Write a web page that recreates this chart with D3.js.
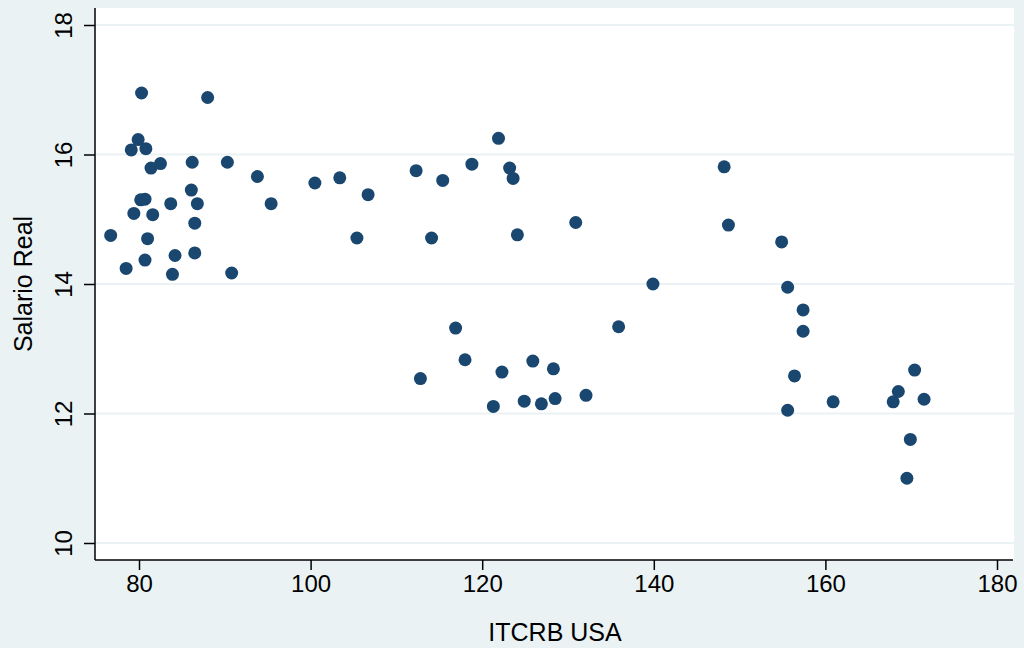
<!DOCTYPE html>
<meta charset="utf-8">
<script src="https://cdn.jsdelivr.net/npm/d3@7"></script>
<style>
  body { margin: 0; background: #eaf2f3; }
  text { font-family: "Liberation Sans", Arial, sans-serif; fill: #000; }
</style>
<body>
<script>

// data
var itcrb = [76.7, 78.5, 79.1, 79.4, 79.9, 80.3, 80.2, 80.7, 80.7, 80.8, 81.0, 81.4, 81.6, 82.5,
             83.7, 84.2, 83.9, 86.1, 86.2, 86.5, 86.5, 86.8, 88.0, 90.3, 90.8, 93.8, 95.4,
             100.5, 103.4, 106.7, 105.4, 112.3, 115.4, 114.1, 118.8, 121.9, 123.2, 123.6, 124.1,
             130.9, 116.9, 135.9, 118.0, 112.8, 122.3, 125.9, 128.3, 121.3, 124.9, 126.9, 128.5,
             132.1, 139.9, 148.2, 148.7, 154.9, 155.6, 157.4, 157.4, 156.4, 155.6, 160.9,
             167.9, 168.5, 170.4, 171.5, 169.9, 169.5]
var salario = [14.75, 14.24, 16.07, 15.09, 16.23, 16.95, 15.30, 15.31, 14.37, 16.09, 14.70, 15.79, 15.07, 15.86,
               15.24, 14.44, 14.15, 15.45, 15.88, 14.94, 14.48, 15.24, 16.88, 15.88, 14.17, 15.66, 15.24,
               15.56, 15.64, 15.38, 14.71, 15.75, 15.60, 14.71, 15.85, 16.25, 15.79, 15.63, 14.76,
               14.95, 13.32, 13.34, 12.83, 12.54, 12.64, 12.81, 12.69, 12.11, 12.19, 12.15, 12.23,
               12.28, 14.00, 15.81, 14.91, 14.65, 13.95, 13.60, 13.27, 12.58, 12.05, 12.18,
               12.18, 12.34, 12.67, 12.22, 11.60, 11.00]
var xTicks = [80, 100, 120, 140, 160, 180]
var yTicks = [10, 12, 14, 16, 18]

var width = 1024
var height = 648

var svg = d3.select("body").append("svg")
            .attr("width", width)
            .attr("height", height)
            .style("display", "block")

// plot region (window.top is reserved, so use other names)
var plotL = 95, plotR = 1014, plotT = 8, plotB = 560

var x = d3.scaleLinear().domain([80, 180]).range([139, 997])
var y = d3.scaleLinear().domain([10, 18]).range([543, 25])

svg.append("rect")
   .attr("x", plotL).attr("y", plotT)
   .attr("width", plotR - plotL).attr("height", plotB - plotT)
   .attr("fill", "#fff")

// gridlines
svg.append("g").selectAll("line")
   .data(yTicks)
   .enter().append("line")
   .attr("x1", plotL).attr("x2", plotR)
   .attr("y1", function(d) { return y(d) }).attr("y2", function(d) { return y(d) })
   .attr("stroke", "#eaf2f3").attr("stroke-width", 2)

// x axis
var xAxis = svg.append("g")
   .attr("transform", "translate(0," + plotB + ")")
   .call(d3.axisBottom(x).tickValues(xTicks).tickSize(10).tickPadding(5).tickFormat(d3.format("d")))
xAxis.select(".domain").attr("d", "M" + plotL + ",0H" + (plotR - 1)).attr("stroke", "#000").attr("stroke-width", 1.5)
xAxis.selectAll(".tick line").attr("stroke", "#000").attr("stroke-width", 1.5)
xAxis.selectAll(".tick text").style("font-size", "24px").style("font-family", "Liberation Sans, Arial, sans-serif")

// y axis
var yAxis = svg.append("g")
   .attr("transform", "translate(" + plotL + ",0)")
   .call(d3.axisLeft(y).tickValues(yTicks).tickSize(11).tickPadding(0).tickFormat(d3.format("d")))
yAxis.select(".domain").attr("d", "M0," + plotT + "V" + plotB).attr("stroke", "#000").attr("stroke-width", 1.5)
yAxis.selectAll(".tick line").attr("stroke", "#000").attr("stroke-width", 1.5)
yAxis.selectAll(".tick text")
     .attr("x", null).attr("dy", null)
     .attr("transform", "translate(-23,0) rotate(-90)")
     .attr("text-anchor", "middle")
     .style("font-size", "24px").style("font-family", "Liberation Sans, Arial, sans-serif")

// axis titles
svg.append("text")
   .attr("transform", "translate(" + 555 + "," + 641 + ")")
   .attr("text-anchor", "middle")
   .style("font-size", "25px")
   .text("ITCRB USA")

svg.append("text")
   .attr("transform", "translate(" + 32 + "," + 284 + ") rotate(-90)")
   .attr("text-anchor", "middle")
   .style("font-size", "25px")
   .text("Salario Real")

// points
svg.append("g").selectAll("circle")
   .data(itcrb)
   .enter().append("circle")
   .attr("cx", function(d) { return x(d) })
   .attr("cy", function(d, i) { return y(salario[i]) })
   .attr("r", 6.5)
   .attr("fill", "#1a476f")

</script>
</body>
